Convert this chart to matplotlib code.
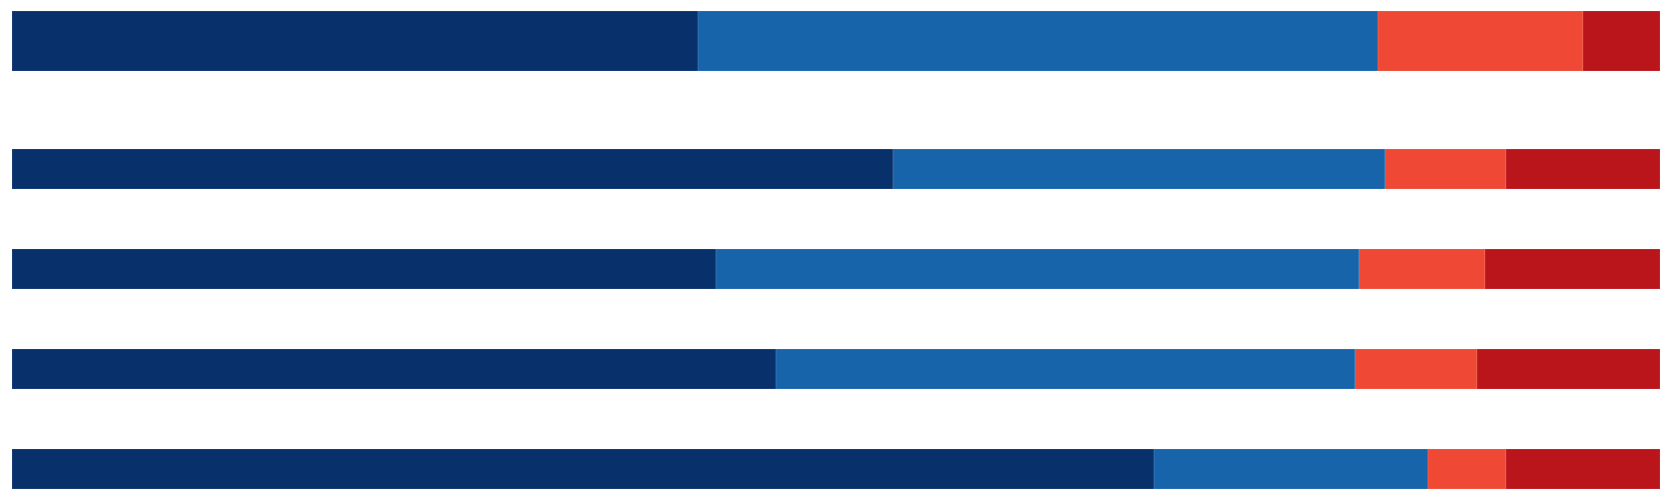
import matplotlib
matplotlib.use("Agg")
import matplotlib.pyplot as plt
import numpy as np

# Data (percent shares per row)
rows = ["Row 1", "Row 2", "Row 3", "Row 4", "Row 5"]
seg_a = [41.65, 53.46, 42.69, 46.35, 69.28]   # dark navy
seg_b = [41.25, 29.87, 39.02, 35.13, 16.63]   # blue
seg_c = [12.43, 7.31, 7.70, 7.44, 4.73]       # orange-red
seg_d = [4.67, 9.36, 10.59, 11.08, 9.36]      # dark red

colors = ["#08306b", "#1864aa", "#ef4935", "#b9151a"]

# layout
y_pos = [0.42, 1.70, 2.70, 3.70, 4.70]
heights = [0.60, 0.40, 0.40, 0.40, 0.40]

fig = plt.figure(figsize=(16.72, 5.02), dpi=100)
ax = fig.add_axes([0, 0, 1, 1])

left = np.zeros(len(rows))
for vals, col in zip([seg_a, seg_b, seg_c, seg_d], colors):
    vals = np.array(vals)
    ax.barh(y_pos, vals, height=heights, left=left, color=col,
            edgecolor=(1, 1, 1, 0.3), linewidth=0.3)
    left += vals

px_per_unit = 1648 / 100.0
ax.set_xlim(-12 / px_per_unit, 100 + 12 / px_per_unit)
ax.set_ylim(5.02, 0)
ax.axis("off")

fig.savefig("out.png", dpi=100)
